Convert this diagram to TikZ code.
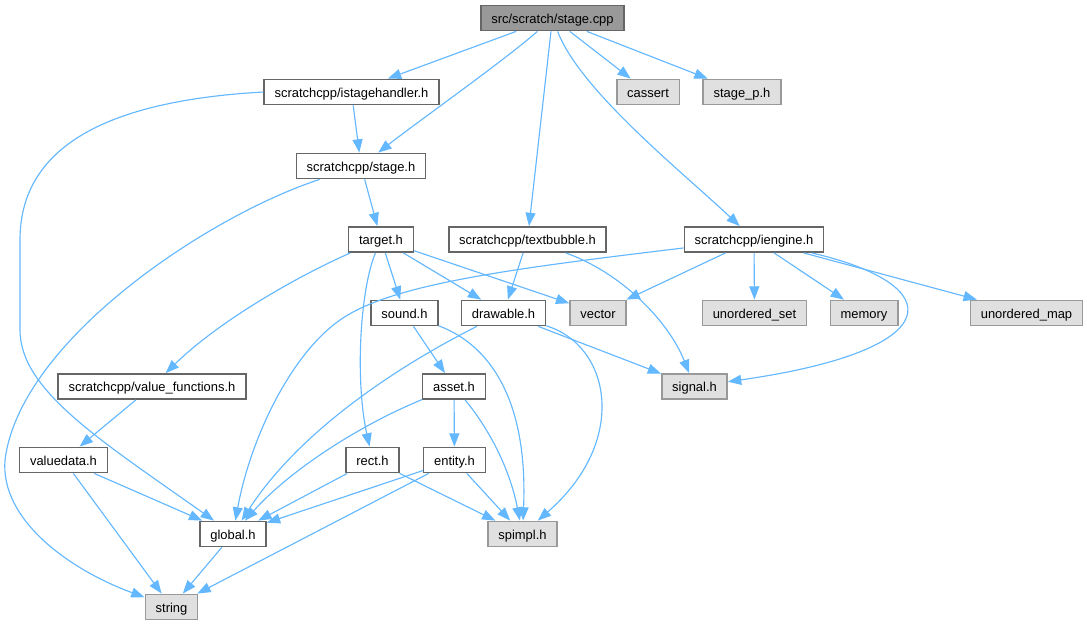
\documentclass[tikz,border=0pt]{standalone}
\usepackage{fontspec}
\setmainfont{Liberation Sans}
\usepackage{tikz}
\usetikzlibrary{arrows.meta,calc}
\definecolor{edgeblue}{HTML}{63B8FF}
\definecolor{grey40}{HTML}{666666}
\definecolor{grey60}{HTML}{999999}
\definecolor{grey87}{HTML}{E0E0E0}
\tikzset{
    block/.style = {draw=grey40, fill=white, rectangle,
        minimum height=19pt,
        inner xsep=7.8pt, inner ysep=0pt,
        text height=9.5pt, text depth=2pt,
        line width=1.1pt,
        font=\fontsize{9.7}{11}\selectfont},
    sysblock/.style = {block, draw=grey60, fill=grey87},
    rootblock/.style = {block, fill=grey60},
    arrow/.style={draw=edgeblue, line width=0.85pt, -{Triangle[length=10pt,width=7.5pt]}}
}

\begin{document}
\begin{tikzpicture}[x=0.75pt, y=-0.75pt]
                \path[use as bounding box, fill=white] (0,0) rectangle (1087,626);
                \node[rootblock] (cpp) at (552.5,18) {src/scratch/stage.cpp};
                \node[block] (ish) at (351.5,92) {scratchcpp/istagehandler.h};
                \node[sysblock] (cas) at (648,92) {cassert};
                \node[sysblock] (stp) at (742,92) {stage\_p.h};
                \node[block] (stg) at (361,166) {scratchcpp/stage.h};
                \node[block] (tgt) at (381,239.5) {target.h};
                \node[block] (tbl) at (527.5,239.5) {scratchcpp/textbubble.h};
                \node[block] (eng) at (754,239.5) {scratchcpp/iengine.h};
                \node[block] (snd) at (404.5,313) {sound.h};
                \node[block] (drw) at (503.5,313) {drawable.h};
                \node[sysblock] (vec) at (598,313) {vector};
                \node[sysblock] (uset) at (754.5,313) {unordered\_set};
                \node[sysblock] (mem) at (864,313) {memory};
                \node[sysblock] (umap) at (1026.5,313) {unordered\_map};
                \node[block] (vfn) at (152,386.5) {scratchcpp/value\_functions.h};
                \node[block] (ast) at (454,386.5) {asset.h};
                \node[sysblock] (sig) at (694.5,386.5) {signal.h};
                \node[block] (vdat) at (63.5,460) {valuedata.h};
                \node[block] (rct) at (372.5,460) {rect.h};
                \node[block] (ent) at (454.5,460) {entity.h};
                \node[block] (glb) at (233,534) {global.h};
                \node[sysblock] (spi) at (522.5,534) {spimpl.h};
                \node[sysblock] (str) at (171.5,607) {string};
                % stage.cpp
                \draw [arrow] (cpp) -- (ish);
                \draw [arrow] (cpp) .. controls (505,60) and (420,120) .. (stg);
                \draw [arrow] (cpp) -- (tbl);
                \draw [arrow] (cpp) .. controls (580,90) and (680,170) .. (eng);
                \draw [arrow] (cpp) -- (cas);
                \draw [arrow] (cpp) -- (stp);
                % headers
                \draw [arrow] (ish) -- (stg);
                \draw [arrow] (ish.west) .. controls (120,100) and (20,140) .. (20,240) -- (20,330)
                    .. controls (20,390) and (100,440) .. (glb);
                \draw [arrow] (stg) -- (tgt);
                \draw [arrow] (stg) .. controls (210,215) and (20,340) .. (5,460)
                    .. controls (0,520) and (70,570) .. (str);
                \draw [arrow] (tgt) .. controls (300,275) and (220,320) .. (vfn);
                \draw [arrow] (tgt) .. controls (360,290) and (355,380) .. (rct);
                \draw [arrow] (tgt) -- (snd);
                \draw [arrow] (tgt) -- (drw);
                \draw [arrow] (tgt) -- (vec);
                \draw [arrow] (tbl) -- (drw);
                \draw [arrow] (tbl) .. controls (620,272) and (668,320) .. (sig);
                \draw [arrow] (eng) .. controls (500,270) and (390,285) .. (340,320)
                    .. controls (290,355) and (250,440) .. (glb);
                \draw [arrow] (eng) -- (vec);
                \draw [arrow] (eng) -- (uset);
                \draw [arrow] (eng) -- (mem);
                \draw [arrow] (eng) -- (umap);
                \draw [arrow] (eng) .. controls (950,285) and (950,350) .. (sig);
                \draw [arrow] (snd) -- (ast);
                \draw [arrow] (snd) .. controls (490,345) and (528,400) .. (spi);
                \draw [arrow] (drw) .. controls (400,365) and (300,430) .. (glb);
                \draw [arrow] (drw) -- (sig);
                \draw [arrow] (drw) .. controls (610,345) and (630,440) .. (spi);
                \draw [arrow] (vfn) -- (vdat);
                \draw [arrow] (ast) -- (ent);
                \draw [arrow] (ast) .. controls (360,425) and (290,470) .. (glb);
                \draw [arrow] (ast) .. controls (490,430) and (510,470) .. (spi);
                \draw [arrow] (vdat) -- (glb);
                \draw [arrow] (vdat) -- (str);
                \draw [arrow] (rct) -- (glb);
                \draw [arrow] (rct) -- (spi);
                \draw [arrow] (ent) -- (glb);
                \draw [arrow] (ent) -- (str);
                \draw [arrow] (ent) -- (spi);
                \draw [arrow] (glb) -- (str);
            \end{tikzpicture}
\end{document}
